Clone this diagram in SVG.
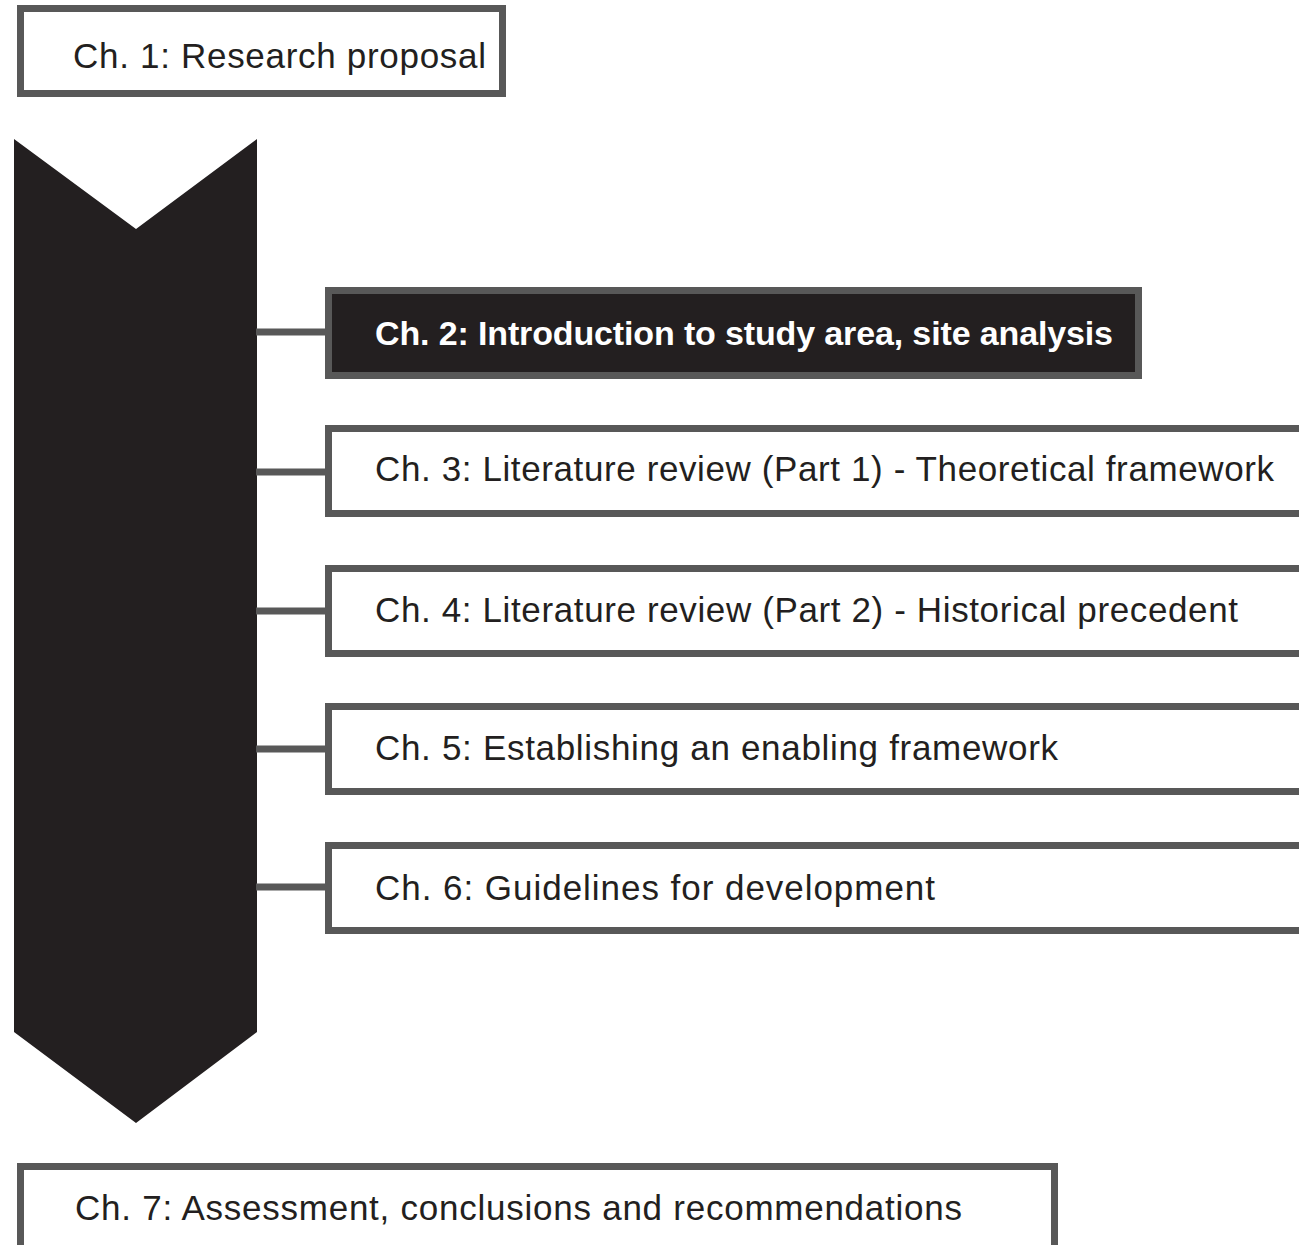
<svg xmlns="http://www.w3.org/2000/svg" width="1299" height="1245" viewBox="0 0 1299 1245">
<style>
.box{fill:#ffffff;stroke:#585858;stroke-width:7}
.dark{fill:#231f20;stroke:#585858;stroke-width:7}
.lbl{font-family:"Liberation Sans",Arial,sans-serif;font-size:35px;fill:#231f20}
.lblb{font-family:"Liberation Sans",Arial,sans-serif;font-size:34px;font-weight:bold;fill:#ffffff}
.conn{stroke:#585858;stroke-width:7;fill:none}
</style>
<rect width="1299" height="1245" fill="#ffffff"/>
<g id="arrow">
<polygon points="14,139 136,229 257,139 257,1032 136,1123 14,1032" fill="#231f20"/>
</g>
<g id="connectors">
<line class="conn" x1="256" y1="332" x2="328" y2="332"/>
<line class="conn" x1="256" y1="472" x2="328" y2="472"/>
<line class="conn" x1="256" y1="611" x2="328" y2="611"/>
<line class="conn" x1="256" y1="749" x2="328" y2="749"/>
<line class="conn" x1="256" y1="887" x2="328" y2="887"/>
</g>
<g id="ch1">
<rect class="box" x="20.5" y="8.5" width="482" height="85"/>
<text class="lbl" x="73" y="68" textLength="413">Ch. 1: Research proposal</text>
</g>
<g id="ch2">
<rect class="dark" x="328.5" y="290.5" width="810" height="85"/>
<text class="lblb" x="375" y="345" textLength="738">Ch. 2: Introduction to study area, site analysis</text>
</g>
<g id="ch3">
<rect class="box" x="328.5" y="428.5" width="990" height="85"/>
<text class="lbl" x="375" y="481" textLength="899">Ch. 3: Literature review (Part 1) - Theoretical framework</text>
</g>
<g id="ch4">
<rect class="box" x="328.5" y="568.5" width="990" height="85"/>
<text class="lbl" x="375" y="622" textLength="863">Ch. 4: Literature review (Part 2) - Historical precedent</text>
</g>
<g id="ch5">
<rect class="box" x="328.5" y="706.5" width="990" height="85"/>
<text class="lbl" x="375" y="760" textLength="683">Ch. 5: Establishing an enabling framework</text>
</g>
<g id="ch6">
<rect class="box" x="328.5" y="845.5" width="990" height="85"/>
<text class="lbl" x="375" y="900" textLength="560">Ch. 6: Guidelines for development</text>
</g>
<g id="ch7">
<rect class="box" x="20.5" y="1166.5" width="1034" height="100"/>
<text class="lbl" x="75" y="1220" textLength="887">Ch. 7: Assessment, conclusions and recommendations</text>
</g>
</svg>
